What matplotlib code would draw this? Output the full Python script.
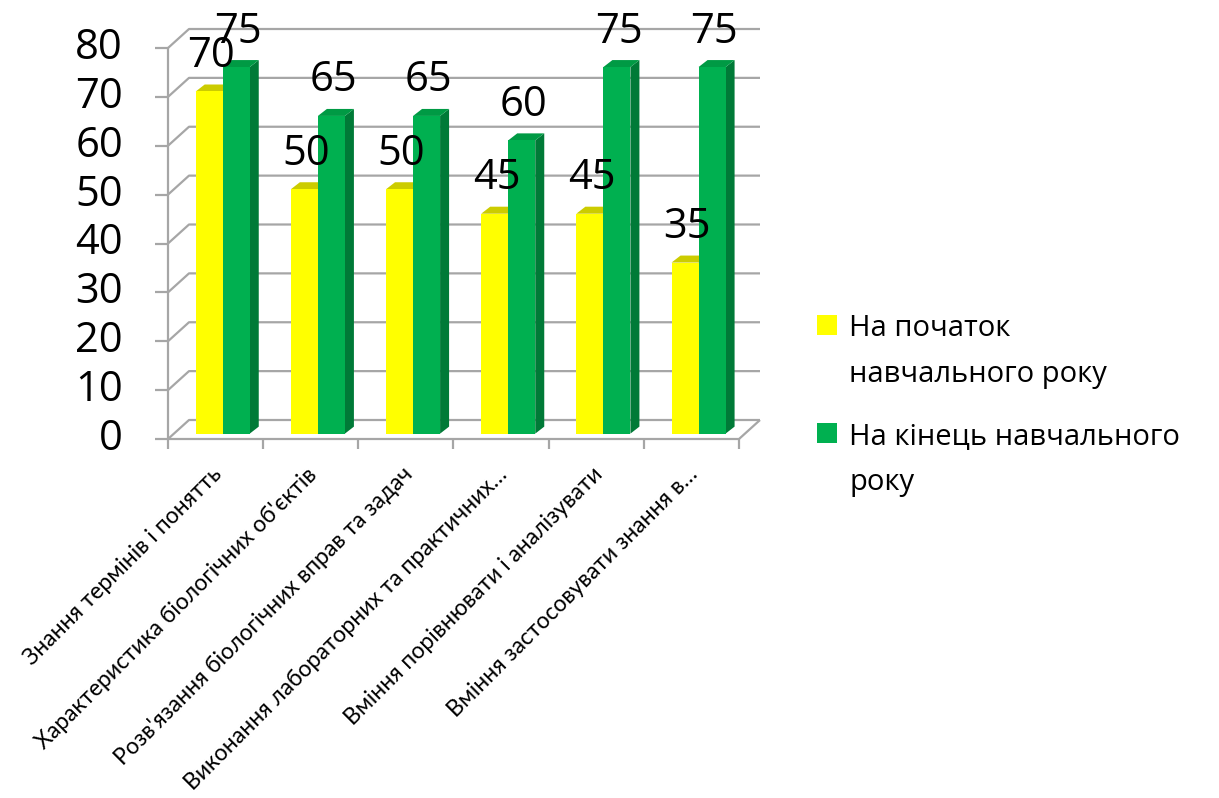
import matplotlib
matplotlib.use("Agg")
import matplotlib.pyplot as plt
from matplotlib.patches import Polygon, Rectangle
import numpy as np

# ---- data -------------------------------------------------------------
categories = [
    "Знання термінів і понятть",
    "Характеристика біологічних об'єктів",
    "Розв'язання біологічних вправ та задач",
    "Виконання лабораторних та практичних…",
    "Вміння порівнювати і аналізувати",
    "Вміння застосовувати знання в…",
]
start_values = [70, 50, 50, 45, 45, 35]
end_values = [75, 65, 65, 60, 75, 75]
series_names = [["На початок", "навчального року"],
                ["На кінець навчального", "року"]]
y_ticks = [0, 10, 20, 30, 40, 50, 60, 70, 80]

# ---- style ------------------------------------------------------------
plt.rcParams["font.family"] = ["Open Sans", "DejaVu Sans"]
LABEL_FONT = ["Lato", "Open Sans", "DejaVu Sans"]
W, H = 1219, 798
GRID = "#A6A6A6"
YEL_FRONT, YEL_TOP, YEL_SIDE = "#FFFF00", "#CCCC00", "#B3B300"
GRN_FRONT, GRN_TOP, GRN_SIDE = "#00B050", "#009A44", "#007A37"

fig = plt.figure(figsize=(W / 100, H / 100), dpi=100)
ax = fig.add_axes([168 / W, (H - 439) / H, (739 - 168) / W, (439 - 48) / H])
n = len(categories)
ax.set_xlim(0, n)
ax.set_ylim(0, 80)
ax.axis("off")

px_x = (739 - 168) / n      # pixels per category
px_y = (439 - 48) / 80      # pixels per value unit

# pseudo-3D depth of the walls and of the columns
DXW, DYW = 21 / px_x, 19 / px_y
DXB, DYB = 9 / px_x, 7 / px_y
BX, BY = 0.075, 1.1
w = 0.284

line_kw = dict(color=GRID, lw=1.6, clip_on=False, solid_capstyle="butt")

# back wall gridlines and side-wall diagonals
for v in y_ticks:
    ax.plot([0, DXW, n + DXW], [v, v + DYW, v + DYW], zorder=1, **line_kw)
    ax.plot([-13 / px_x, 0], [v, v], zorder=1, **line_kw)
    ax.text(-45 / px_x, v, str(v), ha="right", va="center", fontsize=30)

# front axes and floor edge
ax.plot([0, 0], [0, 80], zorder=1, **line_kw)
ax.plot([0, n, n + DXW], [0, 0, DYW], zorder=1, **line_kw)
for i in range(n + 1):
    ax.plot([i, i], [0, -10 / px_y], zorder=1, **line_kw)

x = np.arange(n)
x_start = x + 0.5 - w + BX
x_end = x + 0.5 + BX


def faces(xs, vals, top_c, side_c, z):
    for xi, v in zip(xs, vals):
        top = BY + v
        ax.add_patch(Polygon([(xi + w, BY), (xi + w + DXB, BY + DYB),
                              (xi + w + DXB, top + DYB), (xi + w, top)],
                             closed=True, fc=side_c, ec="none", zorder=z,
                             clip_on=False))
        ax.add_patch(Polygon([(xi, top), (xi + w, top),
                              (xi + w + DXB, top + DYB), (xi + DXB, top + DYB)],
                             closed=True, fc=top_c, ec="none", zorder=z,
                             clip_on=False))


faces(x_start, start_values, YEL_TOP, YEL_SIDE, 3)
ax.bar(x_start, start_values, width=w, bottom=BY, align="edge",
       color=YEL_FRONT, zorder=4, clip_on=False)
faces(x_end, end_values, GRN_TOP, GRN_SIDE, 5)
ax.bar(x_end, end_values, width=w, bottom=BY, align="edge",
       color=GRN_FRONT, zorder=6, clip_on=False)

# value labels
for xs, vals in ((x_start, start_values), (x_end, end_values)):
    for xi, v in zip(xs, vals):
        ax.text(xi + w / 2 + 0.02, v + BY + 5.0, str(v), ha="center",
                va="baseline", fontsize=30, zorder=10)

# category labels
for i, cat in enumerate(categories):
    ax.text(i + 0.5 + 3 / px_x, -32 / px_y, cat, rotation=45,
            rotation_mode="anchor", ha="right", va="center", fontsize=16.5,
            family=LABEL_FONT)

# legend
for (lines, color, y0) in ((series_names[0], YEL_FRONT, 336),
                           (series_names[1], GRN_FRONT, 444)):
    fig.patches.append(Rectangle((817 / W, 1 - (y0 - 1) / H), 20 / W, 20 / H,
                                 transform=fig.transFigure, fc=color, ec="none"))
    for k, line in enumerate(lines):
        fig.text(849 / W, 1 - (y0 + 46 * k) / H, line, ha="left",
                 va="baseline", fontsize=21)

fig.savefig("out.png", dpi=100)
